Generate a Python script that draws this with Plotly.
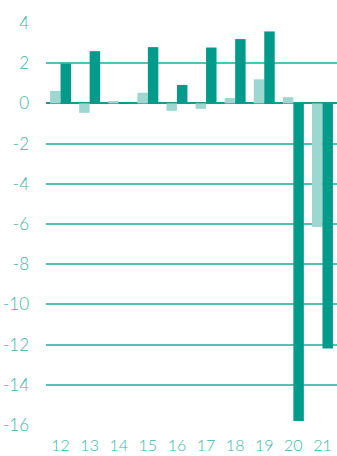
import plotly.graph_objects as go

categories = ["12", "13", "14", "15", "16", "17", "18", "19", "20", "21"]
light_values = [0.62, -0.47, 0.12, 0.53, -0.37, -0.27, 0.27, 1.2, 0.31, -6.15]
dark_values = [1.98, 2.6, 0.06, 2.8, 0.92, 2.78, 3.2, 3.58, -15.8, -12.2]
y_ticks = [4, 2, 0, -2, -4, -6, -8, -10, -12, -14, -16]

LIGHT = "#9dd8d0"
DARK = "#009b8a"
TEXT = "#3db5a3"

fig = go.Figure()
fig.add_trace(go.Bar(x=categories, y=light_values, marker=dict(color=LIGHT, line=dict(width=0)), name="a"))
fig.add_trace(go.Bar(x=categories, y=dark_values, marker=dict(color=DARK, line=dict(width=0)), name="b"))

fig.update_layout(
    width=337, height=456,
    margin=dict(l=46, r=0, t=23, b=31),
    paper_bgcolor="white", plot_bgcolor="white",
    barmode="group", bargap=0.28, bargroupgap=0,
    showlegend=False,
    font=dict(family="Lato", size=17, color=TEXT, weight=300),
)
fig.update_xaxes(
    type="category", showgrid=False, zeroline=False, showline=False,
    ticks="", ticklabelstandoff=9, automargin=False,
    tickfont=dict(size=16),
)
fig.update_yaxes(
    range=[-16, 4], tickvals=y_ticks, ticktext=[str(v) for v in y_ticks],
    showgrid=True, gridcolor="#52c3b2", gridwidth=1.5,
    zeroline=True, zerolinecolor="#1a9a88", zerolinewidth=1.5,
    showline=False, ticks="", ticklabelstandoff=16, automargin=False,
)
fig.write_html("out.html")
